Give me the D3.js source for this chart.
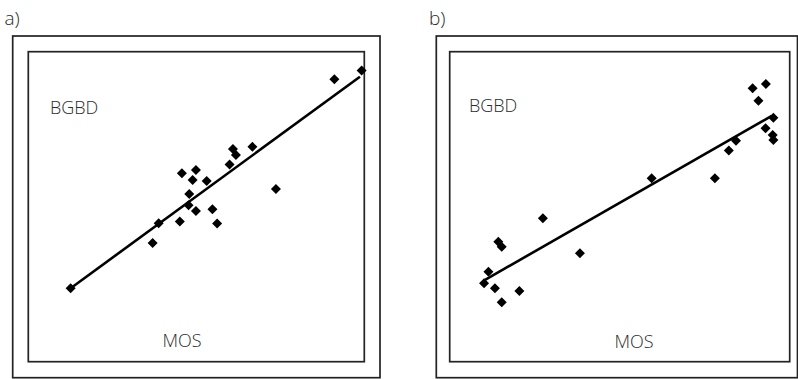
<!DOCTYPE html>
<html>
<head>
<meta charset="utf-8">
<script src="https://cdn.jsdelivr.net/npm/d3@7"></script>
<style>
  body { margin: 0; background: #fff; }
  text { font-family: "Open Sans", "DejaVu Sans", sans-serif; font-weight: 300; fill: #2a2a2a; }
</style>
</head>
<body>
<svg id="chart" width="798" height="379"></svg>
<script>
// panel a: BGBD vs MOS (values in % of the plot box)
const aX = [12.6, 37.0, 38.8, 45.1, 47.7, 47.9, 49.9, 54.8, 56.2, 45.7, 49.9, 48.9, 53.1, 59.9, 60.9, 61.8, 66.7, 73.7, 91.1, 99.2];
const aY = [23.7, 38.3, 44.7, 45.2, 50.5, 54.1, 48.6, 49.2, 44.6, 60.8, 61.8, 58.6, 58.3, 63.6, 68.6, 66.7, 69.3, 55.7, 91.1, 93.9];
const aFit = [[12.6, 23.7], [98.7, 91.9]];

// panel b
const bX = [10.1, 11.4, 13.3, 15.3, 20.5, 14.3, 15.3, 27.4, 38.3, 59.4, 78.0, 82.1, 84.2, 89.1, 93.0, 90.8, 95.2, 92.9, 95.0, 95.2];
const bY = [25.3, 29.0, 23.7, 19.2, 22.8, 38.7, 37.1, 46.3, 35.0, 59.2, 59.2, 68.1, 71.3, 88.2, 89.6, 84.2, 78.7, 75.3, 73.1, 71.5];
const bFit = [[10.4, 26.4], [94.7, 79.3]];

const panelLabels = ["a)", "b)"];
const yLabel = "BGBD";
const xLabel = "MOS";

const svg = d3.select("#chart");

const panels = [
  { label: panelLabels[0], xs: aX, ys: aY, fit: aFit,
    outer: [12.7, 36, 380, 377.7], inner: [28.3, 51.7, 364.3, 361.7],
    labelX: 4.5, yLabX: 50, yLabY: 113.5, xLabX: 162.5, xLabY: 346.5 },
  { label: panelLabels[1], xs: bX, ys: bY, fit: bFit,
    outer: [436.3, 36, 797.5, 377.7], inner: [449.7, 51.7, 789.7, 361.7],
    labelX: 429, yLabX: 469, yLabY: 111.8, xLabX: 614.5, xLabY: 347.5 }
];

const diamond = d3.symbol().type(d3.symbolSquare).size(50);

panels.forEach(p => {
  const [ox0, oy0, ox1, oy1] = p.outer;
  const [ix0, iy0, ix1, iy1] = p.inner;
  const g = svg.append("g");

  g.append("text").attr("x", p.labelX).attr("y", 25)
    .style("font-size", "19px").text(p.label);

  g.append("rect").attr("x", ox0).attr("y", oy0)
    .attr("width", ox1 - ox0).attr("height", oy1 - oy0)
    .attr("fill", "none").attr("stroke", "#222").attr("stroke-width", 1.7);
  g.append("rect").attr("x", ix0).attr("y", iy0)
    .attr("width", ix1 - ix0).attr("height", iy1 - iy0)
    .attr("fill", "none").attr("stroke", "#222").attr("stroke-width", 1.7);

  const x = d3.scaleLinear().domain([0, 100]).range([ix0, ix1]);
  const y = d3.scaleLinear().domain([0, 100]).range([iy1, iy0]);

  g.append("path")
    .attr("d", d3.line().x(d => x(d[0])).y(d => y(d[1]))(p.fit))
    .attr("fill", "none").attr("stroke", "#000").attr("stroke-width", 2.6);

  const pts = d3.zip(p.xs, p.ys);
  g.selectAll("path.pt").data(pts).enter().append("path")
    .attr("class", "pt")
    .attr("d", diamond)
    .attr("transform", d => `translate(${x(d[0])},${y(d[1])}) rotate(45)`)
    .attr("fill", "#000");

  g.append("text").attr("x", p.yLabX).attr("y", p.yLabY)
    .style("font-size", "18px").text(yLabel);
  g.append("text").attr("x", p.xLabX).attr("y", p.xLabY)
    .style("font-size", "18px").text(xLabel);
});
</script>
</body>
</html>
